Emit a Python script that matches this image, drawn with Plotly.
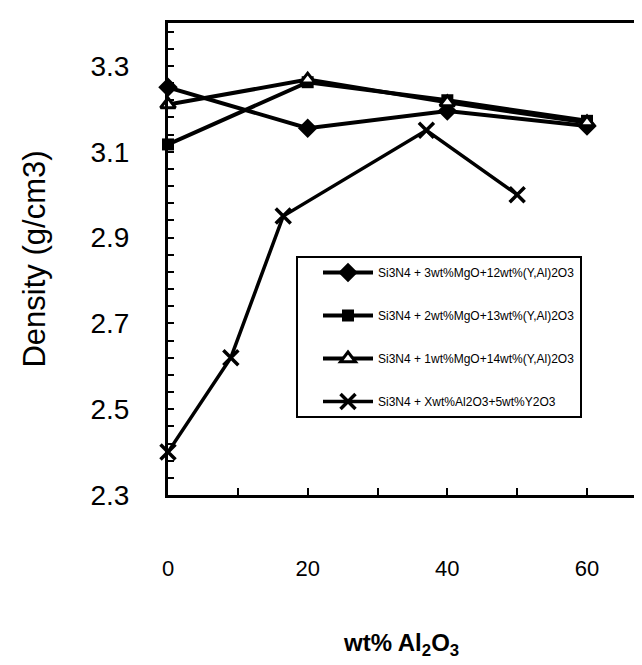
import plotly.graph_objects as go

# ---- data ----
x_main = [0, 20, 40, 60]
mgo3_density = [3.25, 3.155, 3.195, 3.16]
mgo2_density = [3.117, 3.262, 3.22, 3.172]
mgo1_density = [3.21, 3.268, 3.215, 3.168]

x_al2o3 = [0, 9, 16.5, 37, 50]
al2o3_density = [2.40, 2.62, 2.95, 3.15, 3.0]

series_names = [
    "Si3N4 + 3wt%MgO+12wt%(Y,Al)2O3",
    "Si3N4 + 2wt%MgO+13wt%(Y,Al)2O3",
    "Si3N4 + 1wt%MgO+14wt%(Y,Al)2O3",
    "Si3N4 + Xwt%Al2O3+5wt%Y2O3",
]

x_tick_vals = [0, 20, 40, 60]
x_tick_text = ["0", "20", "40", "60"]
y_tick_vals = [2.3, 2.5, 2.7, 2.9, 3.1, 3.3]
y_tick_text = ["2.3", "2.5", "2.7", "2.9", "3.1", "3.3"]

FONT = "Liberation Sans, Arial, sans-serif"

fig = go.Figure()

fig.add_trace(go.Scatter(
    x=x_main, y=mgo3_density, name=series_names[0], mode="lines+markers",
    line=dict(color="black", width=4),
    marker=dict(symbol="diamond", size=15, color="black"),
    cliponaxis=False, legendgroup="a"))
fig.add_trace(go.Scatter(
    x=x_main, y=mgo2_density, name=series_names[1], mode="lines+markers",
    line=dict(color="black", width=4),
    marker=dict(symbol="square", size=12, color="black"),
    cliponaxis=False, legendgroup="b"))
fig.add_trace(go.Scatter(
    x=x_main, y=mgo1_density, name=series_names[2], mode="lines+markers",
    line=dict(color="black", width=4),
    marker=dict(symbol="triangle-up", size=13, color="white",
                line=dict(color="black", width=3)),
    cliponaxis=False, legendgroup="c"))
fig.add_trace(go.Scatter(
    x=x_al2o3, y=al2o3_density, name=series_names[3], mode="lines+markers",
    line=dict(color="black", width=3.5),
    marker=dict(symbol="x-thin", size=15, color="black",
                line=dict(color="black", width=3.5)),
    cliponaxis=False, legendgroup="d"))

fig.update_layout(
    width=642, height=665,
    margin=dict(l=160, r=0, t=15, b=178),
    paper_bgcolor="white", plot_bgcolor="white",
    font=dict(family=FONT, color="black"),
    showlegend=True,
    legend=dict(
        x=(288 - 160) / 482, y=(487 - 248) / 472, xanchor="left", yanchor="top",
        bgcolor="white", bordercolor="black", borderwidth=2,
        font=dict(family=FONT, size=12, color="black"),
        tracegroupgap=24, itemwidth=50, indentation=20,
    ),
    annotations=[dict(
        text="<b>wt% Al<sub>2</sub>O<sub>3</sub></b>",
        x=(393 - 160) / 482, y=(487 - 636) / 472,
        xref="paper", yref="paper", xanchor="center", yanchor="middle",
        showarrow=False, font=dict(family=FONT, size=24, color="black"),
    )],
)

fig.update_xaxes(
    range=[0, 69.02],
    showline=True, linecolor="black", linewidth=3, mirror=True,
    showgrid=False, zeroline=False,
    ticks="inside", ticklen=7, tickwidth=2, tickcolor="black",
    tickvals=x_tick_vals, ticktext=x_tick_text,
    minor=dict(dtick=10, tick0=0, ticks="inside", ticklen=7, tickwidth=2,
               tickcolor="black", showgrid=False),
    tickfont=dict(family=FONT, size=22, color="black"),
    ticklabelstandoff=52,
)
fig.update_yaxes(
    range=[2.3, 3.4],
    showline=True, linecolor="black", linewidth=3, mirror=False,
    showgrid=False, zeroline=False,
    ticks="inside", ticklen=6, tickwidth=2, tickcolor="black",
    tickvals=y_tick_vals, ticktext=y_tick_text,
    minor=dict(dtick=0.04, tick0=2.3, ticks="inside", ticklen=6, tickwidth=2,
               tickcolor="black", showgrid=False),
    tickfont=dict(family=FONT, size=28, color="black"),
    ticklabelstandoff=30,
    title=dict(text="Density (g/cm3)", font=dict(family=FONT, size=31, color="black"),
               standoff=36),
)

fig.write_html("out.html")
